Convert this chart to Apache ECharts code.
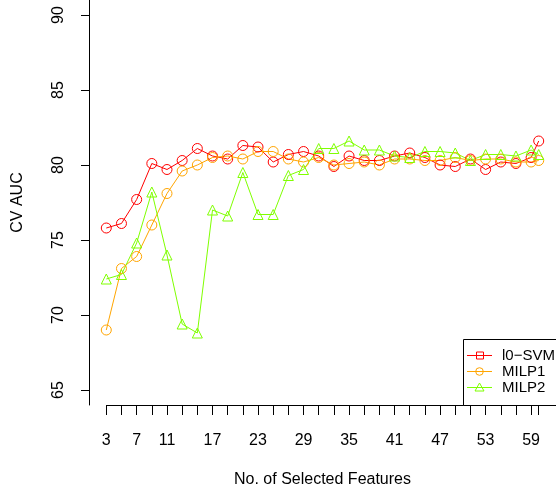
<!DOCTYPE html>
<html>
<head>
<meta charset="utf-8">
<script src="https://cdn.jsdelivr.net/npm/echarts@6/dist/echarts.min.js"></script>
<style>
  html, body { margin: 0; padding: 0; background: #fff; }
  #chart { width: 556px; height: 488px; }
</style>
</head>
<body>
<div id="chart"></div>
<script>
// number of selected features
var features = [3, 5, 7, 9, 11, 13, 15, 17, 19, 21, 23, 25, 27, 29, 31, 33, 35, 37, 39, 41,
                43, 45, 47, 49, 51, 53, 55, 57, 59, 60];
var svm = [75.8, 76.1, 77.7, 80.1, 79.7, 80.3, 81.1, 80.6, 80.4, 81.3, 81.2, 80.2, 80.7, 80.9, 80.6,
           79.9, 80.6, 80.3, 80.3, 80.6, 80.8, 80.5, 80.0, 79.9, 80.4, 79.7, 80.2, 80.1, 80.5, 81.6];
var milp1 = [69.0, 73.1, 73.9, 76.0, 78.1, 79.6, 80.0, 80.5, 80.6, 80.4, 80.9, 80.9, 80.4, 80.2, 80.5,
             80.0, 80.1, 80.2, 80.0, 80.4, 80.4, 80.3, 80.3, 80.5, 80.3, 80.4, 80.4, 80.2, 80.2, 80.3];
var milp2 = [72.4, 72.7, 74.8, 78.2, 74.0, 69.4, 68.8, 77.0, 76.6, 79.5, 76.7, 76.7, 79.3, 79.7, 81.1,
             81.1, 81.6, 81.0, 81.0, 80.6, 80.5, 80.9, 80.9, 80.8, 80.3, 80.7, 80.7, 80.6, 81.0, 80.7];
var xTicks = [3, 5, 7, 9, 11, 13, 15, 17, 19, 21, 23, 25, 27, 29, 31, 33, 35, 37, 39, 41,
              43, 45, 47, 49, 51, 53, 55, 57, 59, 60];
var xLabels = [3, 7, 11, 17, 23, 29, 35, 41, 47, 53, 59];
var yTicks = [65, 70, 75, 80, 85, 90];
var names = ['l0\u2212SVM', 'MILP1', 'MILP2'];
var colors = ['#ff0000', '#ffa500', '#7fff00'];

var font = "'Liberation Sans', Arial, sans-serif";

function pairs(ys) {
    return features.map(function (x, i) { return [x, ys[i]]; });
}

function makeSeries(name, ys, color, symbol, size) {
    return {
        name: name,
        type: 'line',
        data: pairs(ys),
        symbol: symbol,
        symbolSize: size,
        lineStyle: { color: color, width: 1 },
        itemStyle: { color: 'rgba(0,0,0,0)', borderColor: color, borderWidth: 1 },
        emphasis: { disabled: true }
    };
}

var chart = echarts.init(document.getElementById('chart'));
chart.setOption({
    animation: false,
    backgroundColor: '#fff',
    grid: { left: 89, right: 0, top: 0, bottom: 83, outerBoundsMode: 'none', containLabel: false },
    xAxis: {
        type: 'value',
        min: 0.72,
        max: 62.28,
        name: 'No. of Selected Features',
        nameLocation: 'middle',
        nameGap: 67,
        nameTextStyle: { fontFamily: font, fontSize: 16, color: '#000' },
        axisLine: { show: false },
        axisTick: { show: true, length: 10, customValues: xTicks, lineStyle: { color: '#000' } },
        axisLabel: { customValues: xLabels, margin: 28, fontFamily: font, fontSize: 16, color: '#000' },
        splitLine: { show: false }
    },
    yAxis: {
        type: 'value',
        min: 64,
        max: 91,
        name: 'CV AUC',
        nameLocation: 'middle',
        nameGap: 63,
        nameTextStyle: { fontFamily: font, fontSize: 16, color: '#000' },
        axisLine: { show: true, lineStyle: { color: '#000', width: 1 } },
        axisTick: { show: true, length: 8, customValues: yTicks, lineStyle: { color: '#000' } },
        axisLabel: { customValues: yTicks, rotate: 90, margin: 22, fontFamily: font, fontSize: 16, color: '#000' },
        splitLine: { show: false }
    },
    series: [
        makeSeries(names[0], svm, colors[0], 'circle', 10),
        makeSeries(names[1], milp1, colors[1], 'circle', 10),
        makeSeries(names[2], milp2, colors[2], 'triangle', 10)
    ]
});

// x axis line only spans the tick range, like R's axis()
var p0 = chart.convertToPixel({ gridIndex: 0 }, [xTicks[0], 64]);
var p1 = chart.convertToPixel({ gridIndex: 0 }, [xTicks[xTicks.length - 1], 64]);

// legend box, drawn by hand (R legend shows a square for the first entry)
var legendMarks = ['rect', 'circle', 'triangle'];
var graphics = [{
    type: 'line',
    shape: { x1: p0[0], y1: p0[1] + 0.5, x2: p1[0], y2: p1[1] + 0.5 },
    style: { stroke: '#000', lineWidth: 1 }
}, {
    type: 'rect',
    shape: { x: 463.5, y: 339.5, width: 100, height: 66 },
    style: { fill: '#fff', stroke: '#000', lineWidth: 1 },
    z: 10
}];
names.forEach(function (n, i) {
    var y = 355.5 + i * 16;
    graphics.push({
        type: 'line', z: 11,
        shape: { x1: 467, y1: y, x2: 492, y2: y },
        style: { stroke: colors[i], lineWidth: 1 }
    });
    var mark;
    if (legendMarks[i] === 'rect') {
        mark = { type: 'rect', shape: { x: 476.5, y: y - 3.5, width: 7, height: 7 } };
    } else if (legendMarks[i] === 'circle') {
        mark = { type: 'circle', shape: { cx: 479.5, cy: y, r: 3.8 } };
    } else {
        mark = { type: 'polygon', shape: { points: [[479.5, y - 4.5], [475, y + 3.5], [484, y + 3.5]] } };
    }
    mark.z = 11;
    mark.style = { fill: 'none', stroke: colors[i], lineWidth: 1 };
    graphics.push(mark);
    graphics.push({
        type: 'text', z: 11,
        x: 502, y: y,
        style: { text: n, fontFamily: font, fontSize: 15, fill: '#000', verticalAlign: 'middle', align: 'left' }
    });
});
chart.setOption({ graphic: graphics });
</script>
</body>
</html>
